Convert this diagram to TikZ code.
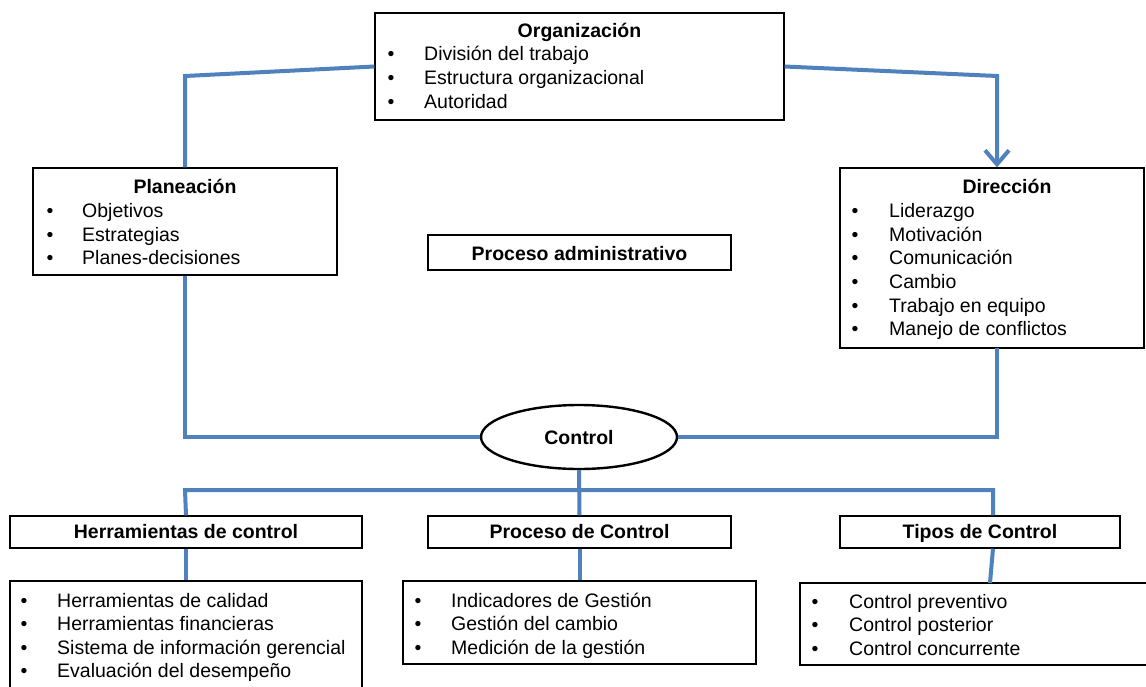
\documentclass[tikz,border=0pt]{standalone}
\usepackage{fontspec}
\setmainfont{Liberation Sans}
\usetikzlibrary{arrows.meta,shapes.geometric}
\definecolor{lnblue}{RGB}{79,129,189}
\begin{document}
\begin{tikzpicture}[x=1pt,y=-1pt,
  box/.style={draw=black, line width=1.3pt, rectangle, inner sep=0pt},
  txt/.style={anchor=base west, inner sep=0pt, font=\fontsize{19.5}{23}\selectfont},
  bul/.style={anchor=base, inner sep=0pt, font=\fontsize{19.5}{23}\selectfont},
  ttl/.style={anchor=base, inner sep=0pt, font=\fontsize{19.5}{23}\selectfont\bfseries},
  conn/.style={draw=lnblue, line width=4pt, line join=miter}
]
\clip (0,0) rectangle (1146,686);
\fill[white] (0,0) rectangle (1146,686);

% boxes
\node[box, minimum width=409pt, minimum height=107pt] (org) at (579.5,66.5) {};
\node[box, minimum width=304pt, minimum height=107pt] (plan) at (185,221.5) {};
\node[box, minimum width=304pt, minimum height=180pt] (dir) at (992,258) {};
\node[box, minimum width=303pt, minimum height=35pt] (padm) at (579.5,252.5) {};
\node[draw=black, line width=2.4pt, ellipse, inner sep=0pt, minimum width=196pt, minimum height=64pt] (ctrl) at (579,437) {};
\node[box, minimum width=352pt, minimum height=32pt] (herr) at (186,532) {};
\node[box, minimum width=303pt, minimum height=32pt] (proc) at (579.5,532) {};
\node[box, minimum width=280pt, minimum height=32pt] (tipos) at (980,532) {};
\node[box, minimum width=352pt, minimum height=119pt] (herrl) at (186,640.5) {};
\node[box, minimum width=353pt, minimum height=83pt] (procl) at (579.5,622.5) {};
\node[box, minimum width=350pt, minimum height=82pt] (tipl) at (975,624) {};

% connectors
\coordinate (c1) at (185,76);
\coordinate (c2) at (997,76);
\coordinate (d1) at (997,348);
\coordinate (h1) at (185,490);
\coordinate (h2) at (993,490);
\coordinate (t2) at (990,583);
\draw[conn] (org.west) -- (c1) -- (c1 |- plan.north);
\draw[conn, -{Straight Barb[length=14pt,width=24pt]}] (org.east) -- (c2) -- (c2 |- dir.north);
\draw[conn] (plan.south) |- (ctrl.west);
\draw[conn] (d1) |- (ctrl.east);
\draw[conn] (ctrl.south) -- (proc.north);
\draw[conn] (herr.north) -- (h1) -- (h2) -- (h2 |- tipos.north);
\draw[conn] (herr.south) -- (herrl.north);
\draw[conn] (proc.south) -- (procl.north);
\draw[conn] (h2 |- tipos.south) -- (t2);

% Organizacion
\node[ttl] (orgT) at (579.5,37) {Organización};
\node[bul] (ob1) at (391,60) {•};
\node[txt] (ot1) at (424,60) {División del trabajo};
\node[bul] (ob2) at (391,84) {•};
\node[txt] (ot2) at (424,84) {Estructura organizacional};
\node[bul] (ob3) at (391,108) {•};
\node[txt] (ot3) at (424,108) {Autoridad};

% Planeacion
\node[ttl] (planT) at (185,193) {Planeación};
\node[bul] (pb1) at (50,217) {•};
\node[txt] (pt1) at (82,217) {Objetivos};
\node[bul] (pb2) at (50,241) {•};
\node[txt] (pt2) at (82,241) {Estrategias};
\node[bul] (pb3) at (50,264) {•};
\node[txt] (pt3) at (82,264) {Planes-decisiones};

% Direccion
\node[ttl] (dirT) at (1007,193) {Dirección};
\node[bul] (db1) at (855,217) {•};
\node[txt] (dt1) at (889,217) {Liderazgo};
\node[bul] (db2) at (855,241) {•};
\node[txt] (dt2) at (889,241) {Motivación};
\node[bul] (db3) at (855,264) {•};
\node[txt] (dt3) at (889,264) {Comunicación};
\node[bul] (db4) at (855,288) {•};
\node[txt] (dt4) at (889,288) {Cambio};
\node[bul] (db5) at (855,312) {•};
\node[txt] (dt5) at (889,312) {Trabajo en equipo};
\node[bul] (db6) at (855,335) {•};
\node[txt] (dt6) at (889,335) {Manejo de conflictos};

% middle
\node[ttl] (padmT) at (579.5,260) {Proceso administrativo};
\node[ttl] (ctrlT) at (579,444) {Control};
\node[ttl] (herrT) at (186,538) {Herramientas de control};
\node[ttl] (procT) at (579.5,538) {Proceso de Control};
\node[ttl] (tiposT) at (980,538) {Tipos de Control};

% Herramientas list
\node[bul] (hb1) at (24,607) {•};
\node[txt] (ht1) at (57,607) {Herramientas de calidad};
\node[bul] (hb2) at (24,630) {•};
\node[txt] (ht2) at (57,630) {Herramientas financieras};
\node[bul] (hb3) at (24,654) {•};
\node[txt] (ht3) at (57,654) {Sistema de información gerencial};
\node[bul] (hb4) at (24,677) {•};
\node[txt] (ht4) at (57,677) {Evaluación del desempeño};

% Proceso list
\node[bul] (kb1) at (418,607) {•};
\node[txt] (kt1) at (451,607) {Indicadores de Gestión};
\node[bul] (kb2) at (418,630) {•};
\node[txt] (kt2) at (451,630) {Gestión del cambio};
\node[bul] (kb3) at (418,654) {•};
\node[txt] (kt3) at (451,654) {Medición de la gestión};

% Tipos list
\node[bul] (tb1) at (815,608) {•};
\node[txt] (tt1) at (849,608) {Control preventivo};
\node[bul] (tb2) at (815,631) {•};
\node[txt] (tt2) at (849,631) {Control posterior};
\node[bul] (tb3) at (815,655) {•};
\node[txt] (tt3) at (849,655) {Control concurrente};
\end{tikzpicture}
\end{document}
